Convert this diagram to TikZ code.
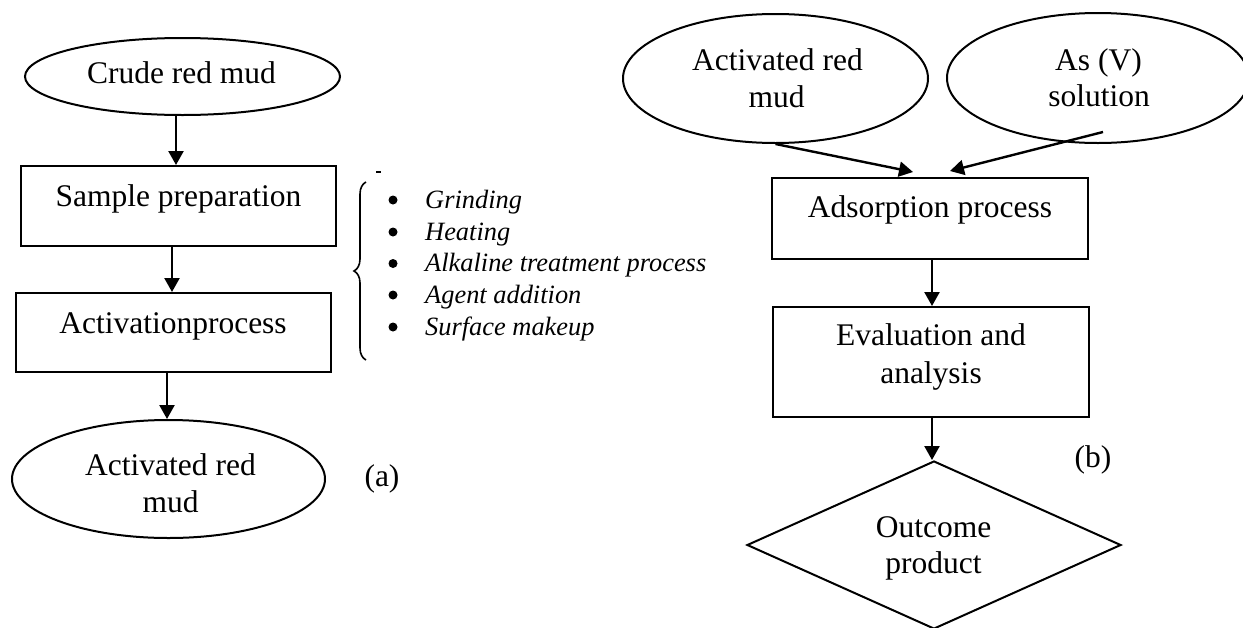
\documentclass[tikz,border=0pt]{standalone}
\usepackage{fontspec}
\setmainfont{Liberation Serif}
\usetikzlibrary{arrows.meta,shapes.geometric,decorations.pathreplacing}
\begin{document}
\begin{tikzpicture}[x=1pt,y=-1pt,
  font=\fontsize{31.5pt}{38pt}\selectfont,
  outl/.style={draw,line width=2pt,inner sep=0pt},
  boxnode/.style={outl,rectangle},
  ell/.style={outl,ellipse},
  txt/.style={inner sep=0pt,anchor=base},
  itemtxt/.style={inner sep=0pt,anchor=base west,font=\fontsize{26.4pt}{32pt}\selectfont\itshape},
  dotnode/.style={circle,fill,inner sep=0pt,minimum size=9pt},
  arr/.style={line width=2.4pt,-{Triangle[length=14pt,width=15pt]}}
]
\useasboundingbox (0,0) rectangle (1243,627);

% ---------- (a) ----------
\node[ell, minimum width=315pt, minimum height=77pt] (crude) at (182.5,76.5) {};
\node[txt] (crudet) at (181.5,83) {Crude red mud};

\node[boxnode, minimum width=315pt, minimum height=80pt] (sp) at (178.5,206) {};
\node[txt] (spt) at (178.5,206) {Sample preparation};

\node[boxnode, minimum width=315pt, minimum height=79pt] (act) at (173.5,332.5) {};
\node[txt] (actt) at (173,333) {Activationprocess};

\node[ell, minimum width=313pt, minimum height=118pt] (arml) at (168.5,479) {};
\node[txt] (armlt1) at (170.5,475) {Activated red};
\node[txt] (armlt2) at (170.5,512) {mud};

\node[txt] (la) at (382,486) {(a)};

\draw[arr] (crude.south) ++(-6.5,0) coordinate (c1) -- (c1 |- sp.north);
\draw[arr] (sp.south) ++(-6.5,0) coordinate (c2) -- (c2 |- act.north);
\draw[arr] (act.south) ++(-6.5,0) coordinate (c3) -- (c3 |- arml.north);

% brace and list
\draw[line width=1.6pt, decorate, decoration={brace, amplitude=12pt}] (366,360) -- (366,182);
\draw[line width=1.2pt] (376,172) -- (381,172);

\node[dotnode] (b1) at (393,200) {};
\node[dotnode] (b2) at (393,232) {};
\node[dotnode] (b3) at (393,263.5) {};
\node[dotnode] (b4) at (393,295) {};
\node[dotnode] (b5) at (393,327) {};
\node[itemtxt] (i1) at (425,208) {Grinding};
\node[itemtxt] (i2) at (425,240) {Heating};
\node[itemtxt] (i3) at (425,271.5) {Alkaline treatment process};
\node[itemtxt] (i4) at (425,303) {Agent addition};
\node[itemtxt] (i5) at (425,335) {Surface makeup};

% ---------- (b) ----------
\node[ell, minimum width=305pt, minimum height=129pt] (armr) at (775.5,78.5) {};
\node[txt] (armrt1) at (777.5,70) {Activated red};
\node[txt] (armrt2) at (776.5,107) {mud};

\node[ell, minimum width=302pt, minimum height=130pt] (asv) at (1098,78) {};
\node[txt] (asvt1) at (1098.5,70) {As (V)};
\node[txt] (asvt2) at (1099,106) {solution};

\node[boxnode, minimum width=316pt, minimum height=81pt] (ads) at (930,218.5) {};
\node[txt] (adst) at (930,217) {Adsorption process};

\node[boxnode, minimum width=316pt, minimum height=110pt] (eval) at (931,362) {};
\node[txt] (evalt1) at (931,345) {Evaluation and};
\node[txt] (evalt2) at (931,383) {analysis};

\node[outl, diamond, minimum width=374pt, minimum height=168pt] (out) at (934,545) {};
\node[txt] (outt1) at (933.5,537) {Outcome};
\node[txt] (outt2) at (933.5,573) {product};

\node[txt] (lb) at (1093,467) {(b)};

\draw[arr] (armr.south) -- ([xshift=-17pt,yshift=5pt]ads.north);
\draw[arr] ([xshift=5pt,yshift=12pt]asv.south) -- ([xshift=20pt,yshift=6pt]ads.north);
\draw[arr] (ads.south) ++(2,0) coordinate (c4) -- (c4 |- eval.north);
\draw[arr] (eval.south) ++(1,0) coordinate (c5) -- (c5 |- out.north);
\end{tikzpicture}
\end{document}
